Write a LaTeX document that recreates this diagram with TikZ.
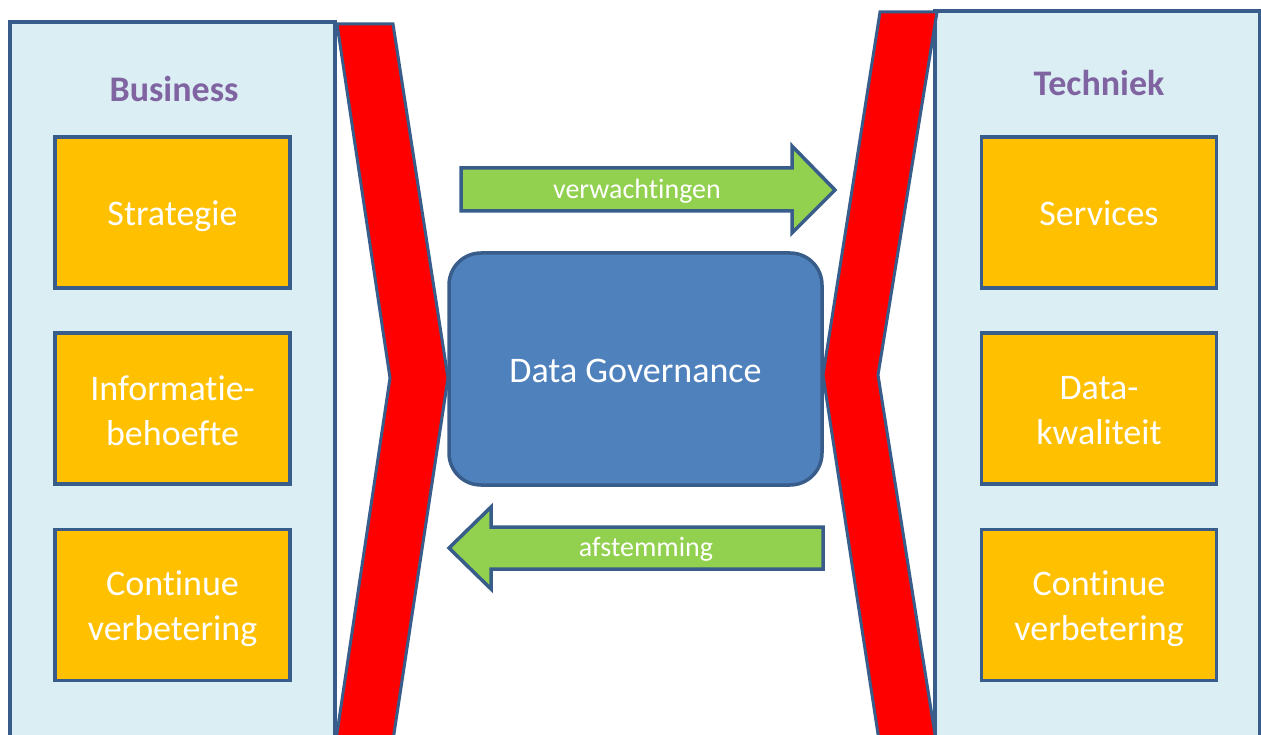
\documentclass[tikz,border=0pt]{standalone}
\usepackage{fontspec}
\setmainfont{Carlito}[Ligatures={NoCommon,NoContextual}]
\definecolor{edgeblue}{HTML}{385D8A}
\definecolor{panelfill}{HTML}{DAEEF3}
\definecolor{boxfill}{HTML}{FFC000}
\definecolor{govfill}{HTML}{4F81BD}
\definecolor{arrowfill}{HTML}{92D050}
\definecolor{titlecol}{HTML}{8064A2}
\definecolor{chevred}{HTML}{FF0000}
\newcommand{\lowertext}[2]{\raisebox{-#1}[\height][\depth]{#2}}
\tikzset{
  panel/.style={draw=edgeblue, line width=3.5pt, fill=panelfill},
  chevron/.style={draw=edgeblue, line width=3pt, fill=chevred, line join=miter},
  itembox/.style={draw=edgeblue, line width=3.5pt, fill=boxfill, minimum width=235pt, minimum height=151pt,
    text=white, align=center, inner sep=0pt, font=\fontsize{36}{45}\selectfont},
  govbox/.style={draw=edgeblue, line width=3.5pt, fill=govfill, rounded corners=32pt, minimum width=373pt,
    minimum height=232pt, text=white, inner sep=0pt, font=\fontsize{36}{43}\selectfont},
  flowarrow/.style={draw=edgeblue, line width=3.5pt, fill=arrowfill, line join=miter},
  arrowlabel/.style={text=white, inner sep=0pt, font=\fontsize{28}{32}\selectfont},
  paneltitle/.style={text=titlecol, inner sep=0pt, font=\fontsize{36}{40}\selectfont\bfseries},
}
\begin{document}
\begin{tikzpicture}[x=1pt,y=-1pt]
\useasboundingbox (0,0) rectangle (1261,735);
\begin{scope}
\clip (0,0) rectangle (1261,735);
% panels
\draw[panel] (10,22) rectangle (335,780);
\draw[panel] (935,11) rectangle (1260,780);
% chevrons
\draw[chevron] (337,24) -- (393,24) -- (448,378) -- (390,760) -- (333,760) -- (390,378) -- cycle;
\draw[chevron] (880,12) -- (937,12) -- (878,375) -- (939,760) -- (882,760) -- (823,375) -- cycle;
\end{scope}
% titles
\node[paneltitle] (business) at (174,89) {Business};
\node[paneltitle] (techniek) at (1099,83) {Techniek};
% left boxes
\node[itembox] (strategie) at (172.5,212.5) {\lowertext{4pt}{Strategie}};
\node[itembox] (informatie) at (172.5,408.5) {\lowertext{2pt}{Informatie-}\\\lowertext{2pt}{behoefte}};
\node[itembox] (contL) at (172.5,605) {\lowertext{4pt}{Continue}\\\lowertext{4pt}{verbetering}};
% right boxes
\node[itembox] (services) at (1099,212.5) {\lowertext{1pt}{Services}};
\node[itembox] (data) at (1099,408.5) {\lowertext{2pt}{Data-}\\\lowertext{2pt}{kwaliteit}};
\node[itembox] (contR) at (1099,605) {\lowertext{4pt}{Continue}\\\lowertext{4pt}{verbetering}};
% data governance
\node[govbox] (gov) at (635.5,369) {\lowertext{2pt}{Data Governance}};
% arrows
\draw[flowarrow] (461,168) -- (792,168) -- (792,146) -- (835,190) -- (792,233) -- (792,211) -- (461,211) -- cycle;
\node[arrowlabel] (verw) at (637,191) {verwachtingen};
\draw[flowarrow] (823,527) -- (491,527) -- (491,507) -- (449,548) -- (491,589) -- (491,569) -- (823,569) -- cycle;
\node[arrowlabel] (afst) at (646,549) {afstemming};
\end{tikzpicture}
\end{document}
